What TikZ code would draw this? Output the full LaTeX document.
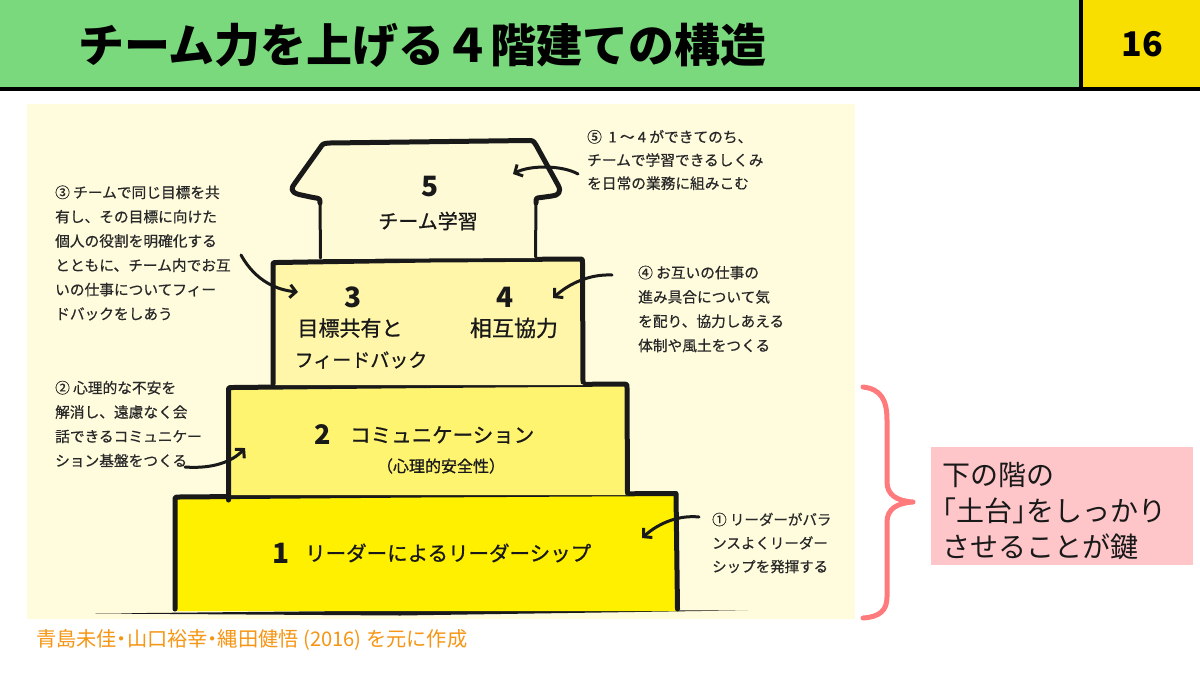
\documentclass[tikz,border=0pt]{standalone}
\usepackage{fontspec}
\setmainfont{Noto Sans CJK JP}
\newfontfamily\medfont{Noto Sans CJK JP}[FakeBold=0.6]
\newfontfamily\lblfont{Noto Sans CJK JP}[FakeBold=0.9]
\newcommand{\halfp}[1]{{\addfontfeature{RawFeature=+halt}#1}}
\usetikzlibrary{arrows.meta}
\definecolor{hdrgreen}{RGB}{122,217,125}
\definecolor{hdryellow}{RGB}{249,223,0}
\definecolor{panel}{RGB}{255,252,222}
\definecolor{floorA}{RGB}{255,240,0}
\definecolor{floorB}{RGB}{255,244,112}
\definecolor{floorC}{RGB}{255,246,170}
\definecolor{floorD}{RGB}{255,250,214}
\definecolor{bracecol}{RGB}{255,122,124}
\definecolor{pinkbox}{RGB}{255,198,202}
\definecolor{citecol}{RGB}{245,150,20}
\definecolor{anntext}{RGB}{40,40,40}
\definecolor{ink}{RGB}{25,25,25}
\begin{document}
\begin{tikzpicture}[x=1pt,y=-1pt,
  brush/.style={draw=ink,line width=5pt,line join=round,line cap=round},
  thinbrush/.style={draw=ink,line width=3pt,line join=round,line cap=round},
  annot/.style={anchor=west,inner sep=0pt,align=left,text=anntext,
     font=\medfont\fontsize{14.7}{24.3}\selectfont},
  pointer/.style={draw=ink,line width=3pt,line cap=round,
     -{Straight Barb[length=6pt,width=13pt]}},
  floornum/.style={inner sep=0pt,text=ink,font=\bfseries\fontsize{28}{30}\selectfont},
  floorlbl/.style={inner sep=0pt,text=ink,font=\lblfont\fontsize{20}{24}\selectfont}]
\useasboundingbox (0,0) rectangle (1200,675);
\fill[white] (0,0) rectangle (1200,675);
% header
\fill[hdrgreen] (0,0) rectangle (1080,89);
\fill[hdryellow] (1080,0) rectangle (1200,89);
\draw[black,line width=4pt] (1080.5,0) -- (1080.5,89);
\draw[black,line width=4pt] (0,89) -- (1200,89);
\node[anchor=west,inner sep=0pt,font=\bfseries\fontsize{46}{50}\selectfont] (title) at (78,45) {チーム力を上げる４階建ての構造};
\node[inner sep=0pt,font=\bfseries\fontsize{34}{36}\selectfont] (pnum) at (1142,44) {16};
% panel
\fill[panel] (27,104) rectangle (855,619);
% ground line
\fill[ink] (95,613.5) -- (400,610.5) -- (748,610.3) -- (400,615.5) -- cycle;
% floor 1
\fill[floorA] (176,496) -- (677,493) -- (678,611) -- (176,611) -- cycle;
\draw[brush] (175,609) -- (175,501) .. controls (175,497) .. (179,497) -- (420,495) -- (676,493.5) -- (677.5,609);
% floor 2
\fill[floorB] (229,387) -- (627,384) -- (628,495) -- (229,495) -- cycle;
\draw[brush] (228.5,500) -- (228.5,391) .. controls (228.5,387.5) .. (233,387.5) -- (430,385.5) -- (624,384) .. controls (627,384) .. (627,388) -- (627.5,493);
% floor 3/4
\fill[floorC] (273,262) -- (583,259) -- (583,385) -- (273,385) -- cycle;
\draw[brush] (273,384) -- (273,266) .. controls (273,262.5) .. (277,262.5) -- (430,260) -- (579,259) .. controls (582.5,259) .. (582.5,263) -- (583,382);
% floor 5 (roof)
\fill[floorD] (320,259) -- (320,203) .. controls (320,198.5) .. (313,197.5) -- (299,194.5) .. controls (290,192) and (291,188) .. (295,183) -- (320,148) .. controls (323,143.5) .. (330,143) -- (528,140.5) .. controls (533,140.5) .. (536,145) -- (558,185) .. controls (562,192) and (558,195.5) .. (552,196) -- (541,197.5) .. controls (536,198) .. (536,203) -- (536,258) -- cycle;
\draw[brush] (320,203) .. controls (320,198.5) .. (313,197.5) -- (299,194.5) .. controls (290,192) and (291,188) .. (295,183) -- (320,148) .. controls (323,143.5) .. (330,143) -- (528,140.5) .. controls (533,140.5) .. (536,145) -- (558,185) .. controls (562,192) and (558,195.5) .. (552,196) -- (541,197.5) .. controls (536,198) .. (536,203);
\draw[thinbrush] (320,202) -- (320.5,258);
\draw[thinbrush] (536,202) -- (535.5,257);
% floor labels
\node[floornum] (n5) at (430,187) {5};
\node[floorlbl] (l5) at (428,221) {チーム学習};
\node[floornum] (n3) at (353,297) {3};
\node[floorlbl,font=\lblfont\fontsize{21}{24}\selectfont] (l3a) at (350,328) {目標共有と};
\node[floorlbl,font=\lblfont\fontsize{19}{24}\selectfont] (l3b) at (361,360) {フィードバック};
\node[floornum] (n4) at (505,297) {4};
\node[floorlbl,font=\lblfont\fontsize{22}{24}\selectfont] (l4) at (514,328) {相互協力};
\node[floornum,font=\bfseries\fontsize{27}{30}\selectfont] (n2) at (323,435) {2};
\node[floorlbl,anchor=west,font=\lblfont\fontsize{20.5}{24}\selectfont] (l2) at (350,435) {コミュニケーション};
\node[floorlbl,font=\lblfont\fontsize{16}{20}\selectfont] (l2b) at (441,466) {（心理的安全性）};
\node[floornum] (n1) at (281,553) {1};
\node[floorlbl,anchor=west,font=\lblfont\fontsize{20.5}{24}\selectfont] (l1) at (305,553) {リーダーによるリーダーシップ};
% annotations
\node[annot] (a3) at (55,253) {③ チームで同じ目標を共\\有し、その目標に向けた\\個人の役割を明確化する\\とともに、チーム内でお互\\いの仕事についてフィー\\ドバックをしあう};
\node[annot] (a2) at (55,424) {② 心理的な不安を\\解消し、遠慮なく会\\話できるコミュニケー\\ション基盤をつくる};
\node[annot,font=\medfont\fontsize{14.7}{23.2}\selectfont] (a5) at (587,160) {⑤ \ 1 ～ 4 ができてのち、\\チームで学習できるしくみ\\を日常の業務に組みこむ};
\node[annot] (a4) at (638,309) {④ お互いの仕事の\\進み具合について気\\を配り、協力しあえる\\体制や風土をつくる};
\node[annot,font=\medfont\fontsize{14.5}{23.5}\selectfont] (a1) at (712,543) {① リーダーがバラ\\ンスよくリーダー\\シップを発揮する};
% arrow end points
\coordinate (s3) at (241,255);
\coordinate (e3) at (298,292);
\coordinate (s2) at (185,467);
\coordinate (e2) at (245,448);
\coordinate (s5) at (578,174);
\coordinate (e5) at (513,174);
\coordinate (s4) at (612,275);
\coordinate (e4) at (553,298);
\coordinate (s1) at (699,517);
\coordinate (e1) at (642,538);
\draw[pointer] (s3) .. controls (256,282) and (278,290) .. (e3);
\draw[pointer] (s2) .. controls (212,469) and (232,462) .. (e2);
\draw[pointer] (s5) .. controls (562,165) and (530,165) .. (e5);
\draw[pointer] (s4) .. controls (590,274) and (570,283) .. (e4);
\draw[pointer] (s1) .. controls (680,515) and (660,522) .. (e1);
% brace
\draw[bracecol,line width=5pt,line cap=round,line join=round] (863,387) .. controls (881,389) and (887,400) .. (887,420) -- (887,482) .. controls (887,495) and (897,501) .. (913,502) .. controls (897,503) and (887,509) .. (887,522) -- (887,597) .. controls (887,610) and (880,617) .. (863,618);
% pink box
\fill[pinkbox] (931,447) rectangle (1193,565);
\node[anchor=west,inner sep=0pt,align=left,text=ink,font=\fontsize{28}{36}\selectfont] (key) at (942,511) {下の階の\\\halfp{「}土台\halfp{」}をしっかり\\させることが鍵};
% citation
\node[anchor=west,inner sep=0pt,text=citecol,font=\fontsize{20.2}{22}\selectfont] (cite) at (36,640) {青島未佳\halfp{・}山口裕幸\halfp{・}縄田健悟 (2016) を元に作成};
\end{tikzpicture}
\end{document}
